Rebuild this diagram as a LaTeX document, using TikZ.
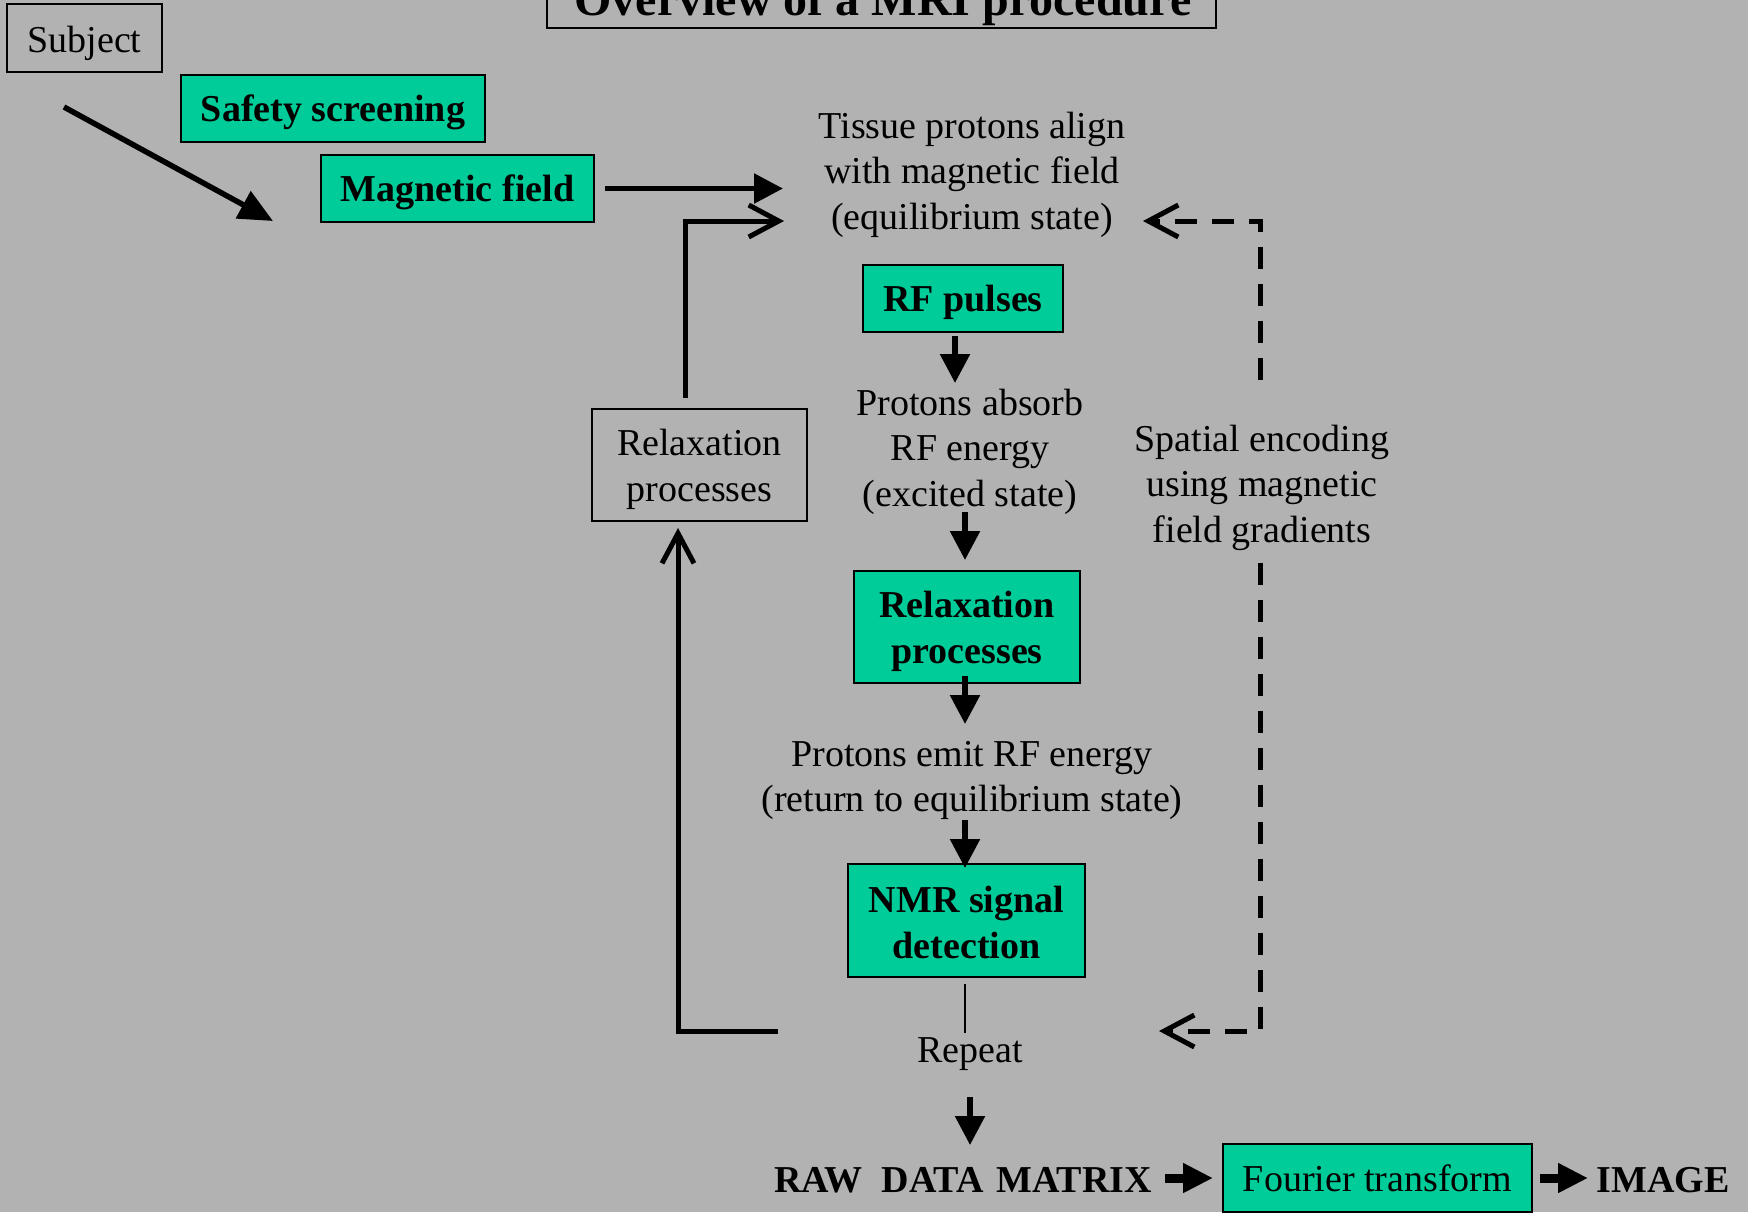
\documentclass[tikz,border=0pt]{standalone}
\usepackage{fontspec}
\setmainfont{Liberation Serif}
\usetikzlibrary{arrows.meta,calc}
\definecolor{bg}{HTML}{B2B2B2}
\definecolor{grn}{HTML}{00CC99}
\newcommand\lowr[1]{\rule{0pt}{#1}}
\begin{document}
\begin{tikzpicture}[x=0.5pt,y=-0.5pt,
  every node/.style={font=\fontsize{19}{22.75}\selectfont, align=center, inner sep=0pt},
  gbox/.style={draw=black, line width=1pt, fill=grn, font=\fontsize{19}{22.75}\selectfont\bfseries},
  wbox/.style={draw=black, line width=1pt},
  boldtext/.style={font=\fontsize{19}{22.75}\selectfont\bfseries},
  fa/.style={line width=2.75pt, -{Triangle[length=14.5pt,width=14.5pt]}},
  fb/.style={line width=4.5pt, -{Triangle[length=15pt,width=14pt]}},
  oa/.style={line width=2.5pt, -{Straight Barb[length=15pt,width=16pt]}},
  da/.style={oa, dash pattern=on 11pt off 7.5pt},
  ]
\useasboundingbox (0,0) rectangle (1748,1212);
\fill[bg] (0,0) rectangle (1748,1212);
\clip (0,0) rectangle (1748,1212);

% title (clipped at top)
\node[draw=black, line width=1pt, minimum width=334.5pt, minimum height=60pt, anchor=south] (titlebox) at (881,29) {};
\node[anchor=base, font=\fontsize{24}{28}\selectfont\bfseries] (title) at (883,15) {Overview of a MRI procedure};

% boxes and texts
\node[wbox, minimum width=77.5pt, minimum height=34pt] (subject) at (84.5,38) {\lowr{18.5pt}Subject};
\node[gbox, minimum width=152pt, minimum height=33.5pt] (safety) at (333,108.5) {\lowr{17.5pt}Safety screening};
\node[gbox, minimum width=136.5pt, minimum height=33.5pt] (magnet) at (457.5,188.5) {\lowr{17.5pt}Magnetic field};
\node (tissue) at (972,174.5) {Tissue protons align\\with magnetic field\\(equilibrium state)};
\node[gbox, minimum width=100pt, minimum height=33.5pt] (rf) at (963,298.5) {\lowr{17.5pt}RF pulses};
\node (absorb) at (970,451.5) {Protons absorb\\RF energy\\(excited state)};
\node[gbox, minimum width=113pt, minimum height=56pt] (relax) at (967,627) {\lowr{17.5pt}Relaxation\\processes};
\node (emit) at (972,780.5) {Protons emit RF energy\\(return to equilibrium state)};
\node[gbox, minimum width=118.5pt, minimum height=56.5pt] (nmr) at (966.5,920.5) {\lowr{15.2pt}NMR signal\\detection};
\node (repeat) at (970,1054.5) {Repeat};
\node[boldtext] (raw) at (963,1180) {RAW\ \ DATA\hspace{1.5pt} MATRIX};
\node[draw=black, line width=1pt, fill=grn, minimum width=154.5pt, minimum height=34pt] (fourier) at (1377.5,1178) {Fourier transform};
\node[boldtext] (image) at (1663,1180) {IMAGE};
\node[wbox, minimum width=107.5pt, minimum height=56pt] (relaxl) at (699.5,465) {\lowr{17.5pt}Relaxation\\processes};
\node (spatial) at (1262,487.5) {Spatial encoding\\using magnetic\\field gradients};

% free ends
\coordinate (d1) at (64,107);
\coordinate (d2) at (273,221);
\coordinate (inM) at (783,188.5);
\coordinate (inR) at (784,221);
\coordinate (loopstart) at (778,1031);
\coordinate (r1) at (970,1097);
\coordinate (r2) at (970,1145);
\coordinate (s1) at (1260,380);
\coordinate (dt) at (1143,221);
\coordinate (s2) at (1260,563);
\coordinate (db) at (1159,1031);

% connectors
\draw[line width=2.75pt, -{Triangle[length=17pt,width=15pt]}] (d1) -- (d2);
\draw[fa] ([xshift=5pt]magnet.east) -- (inM);
\draw[oa] ([xshift=-7.25pt,yshift=5pt]relaxl.north) |- (inR);
\draw[oa] (loopstart) -| ([xshift=-10.75pt,yshift=-3pt]relaxl.south);
\draw[fa] ([xshift=-4pt,yshift=-1.5pt]rf.south) -- ++(0,47);
\draw[fa] ([xshift=-1pt,yshift=29pt]relax.north) -- ([xshift=-1pt,yshift=5pt]relax.north);
\draw[fa] ([xshift=-1pt,yshift=4pt]relax.south) -- ++(0,48);
\draw[fa] ([xshift=-0.75pt,yshift=21.5pt]nmr.north) -- ([xshift=-0.75pt,yshift=-2.5pt]nmr.north);
\draw[line width=0.7pt] ([xshift=-0.75pt,yshift=-3pt]nmr.south) -- ++(0,49);
\draw[fa] (r1) -- (r2);
\draw[fb] ([xshift=-28.5pt]fourier.west) -- ([xshift=-4.5pt]fourier.west);
\draw[fb] ([xshift=3.5pt]fourier.east) -- ([xshift=27.5pt]fourier.east);
\draw[da] (s1) |- (dt);
\draw[da] (s2) |- (db);
\end{tikzpicture}
\end{document}
